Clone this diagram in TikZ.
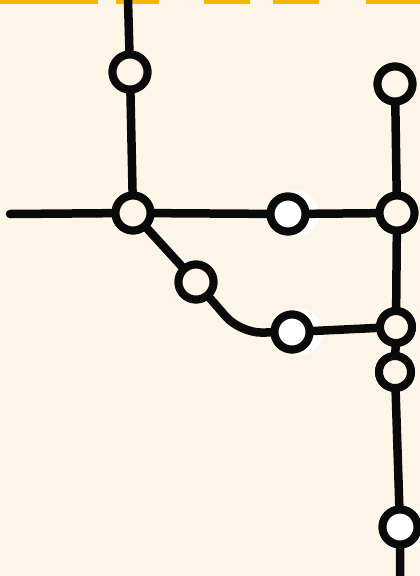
\documentclass[tikz,border=0pt]{standalone}
\usepackage{xcolor}
\definecolor{mapcream}{HTML}{FDF6E8}
\definecolor{mapink}{HTML}{0A0A0A}
\definecolor{mapgold}{HTML}{F5B800}
\begin{document}
\begin{tikzpicture}[
  x=1pt,
  y=-1pt,
  every node/.style={inner sep=0pt},
  stop/.style={circle, draw=mapink, line width=8pt, fill=mapcream, minimum size=35pt},
  stopw/.style={stop, fill=white},
  track/.style={draw=mapink, line width=8.5pt, line cap=round}
]
  \useasboundingbox[fill=mapcream] (0,0) rectangle (420,576);
  % dashed border along the top
  \foreach \xa/\xb in {0/98,116/159,204/250,273/319,366/420}
    \fill[mapgold] (\xa,0) rectangle (\xb,4);
  % white halos
  \fill[white] (296,214) circle (23);
  \fill[white] (300,332) circle (23);
  \fill[white] (404,528) circle (23);

  \coordinate (top) at (128,0);
  \coordinate (west) at (10,214);
  \coordinate (bend) at (240,333);
  \coordinate (bottom) at (400,576);

  \node[stop]  (a) at (130,72)  {};
  \node[stop]  (b) at (133,213) {};
  \node[stopw] (c) at (288,214) {};
  \node[stop]  (d) at (397,213) {};
  \node[stop]  (e) at (395,84)  {};
  \node[stop]  (f) at (196,282) {};
  \node[stopw] (g) at (292,332) {};
  \node[stop, minimum size=32pt] (h) at (396,327) {};
  \node[stop, minimum size=32pt] (i) at (395,372) {};
  \node[stopw] (j) at (400,527) {};

  \draw[track] (top) -- (a) -- (b);
  \draw[track] (west) -- (b) -- (c) -- (d);
  \draw[track] (e) -- (d) -- (h) -- (i) -- (j) -- (bottom);
  \draw[track, rounded corners=22pt] (b) -- (f) -- (bend) -- (g) -- (h);

  % redraw the stops over the tracks
  \foreach \n/\s in {a/stop,b/stop,c/stopw,d/stop,e/stop,f/stop,g/stopw,j/stopw}
    \node[\s] at (\n) {};
  \node[stop, minimum size=32pt] at (h) {};
  \node[stop, minimum size=32pt] at (i) {};
\end{tikzpicture}
\end{document}
